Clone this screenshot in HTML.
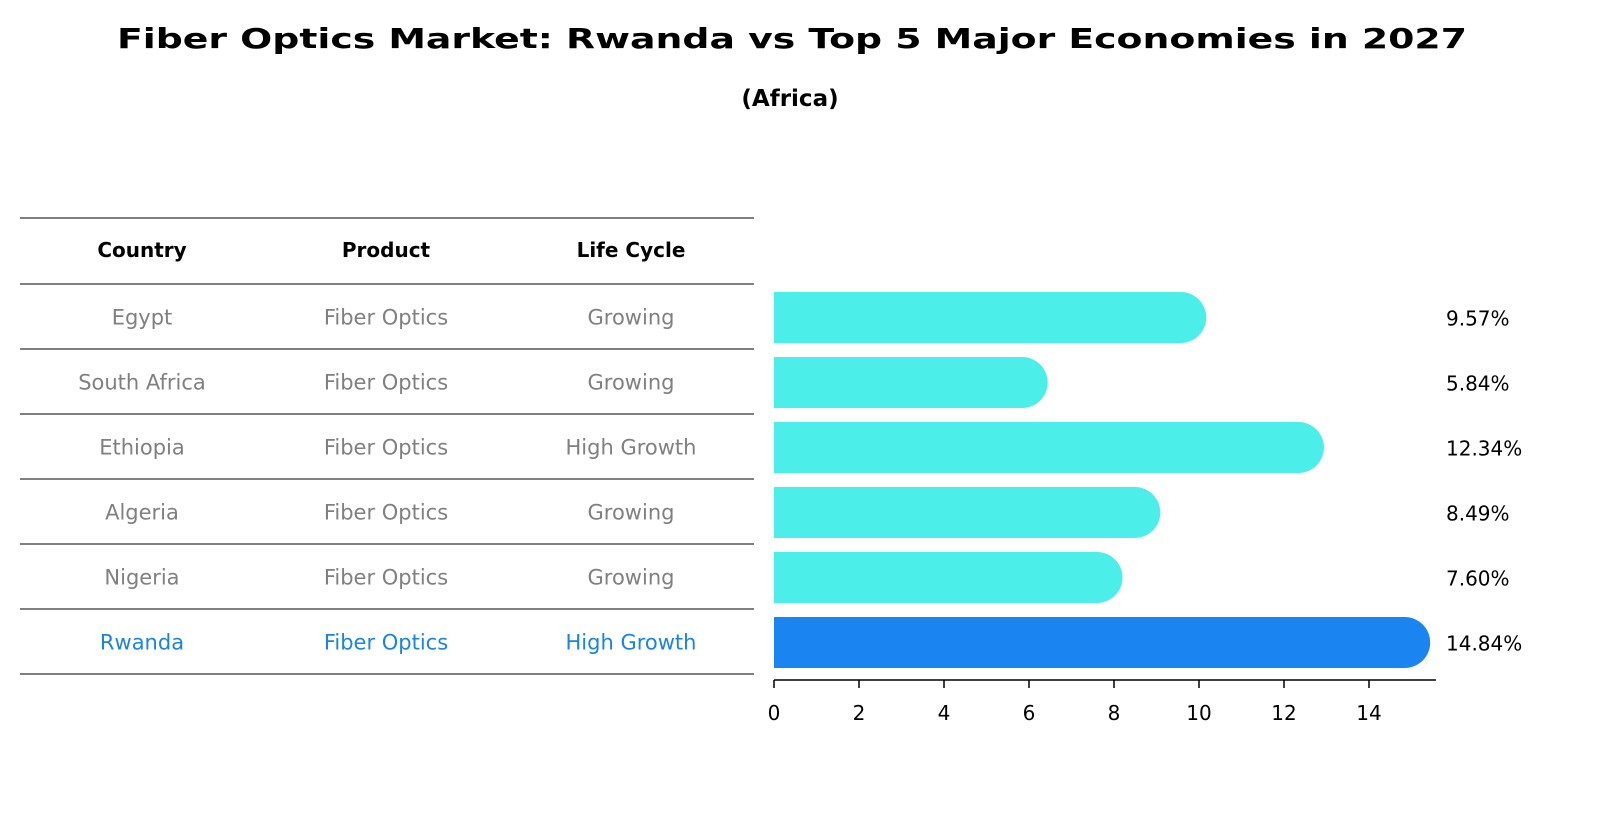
<!DOCTYPE html>
<html><head><meta charset="utf-8"><style>
body{margin:0;background:#fff;}
svg{display:block;font-family:"DejaVu Sans","Liberation Sans",sans-serif;}
</style></head><body>
<svg id="chart" width="1604" height="823" viewBox="0 0 1604 823">
<text x="792" y="48" text-anchor="middle" font-size="28" font-weight="bold" textLength="1350" lengthAdjust="spacingAndGlyphs">Fiber Optics Market: Rwanda vs Top 5 Major Economies in 2027</text>
<text x="790" y="106" text-anchor="middle" font-size="23" font-weight="bold">(Africa)</text>
<g id="table"></g>
<g id="bars"></g>
<g id="axis"></g>
</svg>
<script>
const countries=["Egypt","South Africa","Ethiopia","Algeria","Nigeria","Rwanda"];
const products=["Fiber Optics","Fiber Optics","Fiber Optics","Fiber Optics","Fiber Optics","Fiber Optics"];
const lifeCycles=["Growing","Growing","High Growth","Growing","Growing","High Growth"];
const values=[9.57,5.84,12.34,8.49,7.60,14.84];
const ticks=[0,2,4,6,8,10,12,14];
const NS="http://www.w3.org/2000/svg";
const x0=774,pxPer=42.5,rowTop=284,rowH=65;
const xs=v=>x0+v*pxPer;
const yc=i=>rowTop+rowH*i+rowH/2+1;
function mk(t,a,p){const e=document.createElementNS(NS,t);for(const k in a)e.setAttribute(k,a[k]);p.appendChild(e);return e;}
const tb=document.getElementById('table');
const colX=[142,386,631];
const heads=["Country","Product","Life Cycle"];
heads.forEach((h,j)=>{const t=mk('text',{x:colX[j],y:257,'text-anchor':'middle','font-size':20,'font-weight':'bold'},tb);t.textContent=h;

});
const lineYs=[218,284];
countries.forEach((c,i)=>lineYs.push(rowTop+rowH*(i+1)));
lineYs.forEach(y=>{const l=mk('line',{x1:20,x2:754,y1:y,y2:y,stroke:'#000','stroke-width':1},tb);

});
countries.forEach((c,i)=>{const col=i===5?'#1a85e0':'#808080';
[c,products[i],lifeCycles[i]].forEach((s,j)=>{const t=mk('text',{x:colX[j],y:yc(i)+7,'text-anchor':'middle','font-size':21,fill:col},tb);t.textContent=s;

});});
const bg=document.getElementById('bars');
const bh=51,r=25.5;
values.forEach((v,i)=>{const col=i===5?'#1a85f0':'#4ceeea';const y=yc(i)-bh/2;const xe=xs(v);
const p=mk('path',{d:`M${x0},${y} H${xe} A${r},${r} 0 0 1 ${xe},${y+bh} H${x0} Z`,fill:col},bg);


const t=mk('text',{x:1446,y:yc(i)+8,'font-size':20},bg);t.textContent=v.toFixed(2)+'%';

});
const ax=document.getElementById('axis');
mk('line',{x1:x0,x2:1436,y1:680,y2:680,stroke:'#000','stroke-width':1.5},ax);
ticks.forEach(tv=>{mk('line',{x1:xs(tv),x2:xs(tv),y1:680,y2:688,stroke:'#000','stroke-width':1.5},ax);
const t=mk('text',{x:xs(tv),y:720,'text-anchor':'middle','font-size':20},ax);t.textContent=tv;

});
</script>
</body></html>
